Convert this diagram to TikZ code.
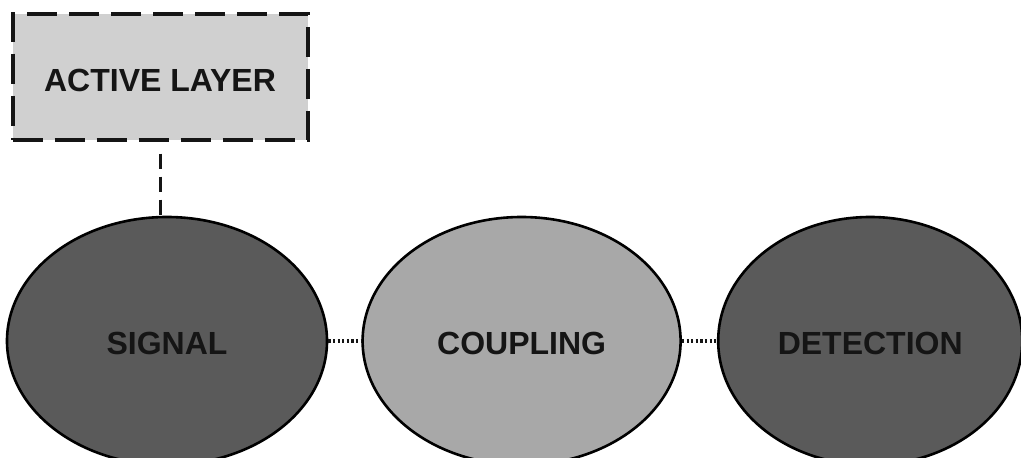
\documentclass[tikz,border=0pt]{standalone}
\usepackage{fontspec}
\setmainfont{Liberation Sans}
\usetikzlibrary{positioning, shapes.geometric}
\definecolor{cdark}{HTML}{5A5A5A}
\definecolor{clight}{HTML}{A8A8A8}
\definecolor{cpale}{HTML}{D0D0D0}
\definecolor{cink}{HTML}{151515}
\tikzset{
  every picture/.style={font=\fontsize{16}{19}\selectfont\bfseries},
  blob/.style={ellipse, draw=black, fill=#1, line width=1.3pt, inner sep=0pt, minimum height=124pt, text=cink, text height=14pt, text depth=0pt},
  blob/.default=cdark,
  layerbox/.style={draw=cink, fill=cpale, line width=2pt, dash pattern=on 15pt off 6pt, minimum width=147.5pt, minimum height=63pt, text=cink, text height=14.5pt, text depth=0pt},
  dotlink/.style={draw=cink, line width=1.7pt, dash pattern=on 1.1pt off 1.2pt},
  dashlink/.style={draw=cink, line width=1.5pt, dash pattern=on 7.5pt off 4pt},
}
\begin{document}
\begin{tikzpicture}
  \useasboundingbox (0,0) rectangle (510.5pt,-229pt);
  \node[blob, minimum width=160pt] (sig) at (83.5pt,-170.5pt) {SIGNAL};
  \node[blob=clight, minimum width=159pt, right=16.5pt of sig] (coup) {COUPLING};
  \node[blob, minimum width=152pt, right=17.5pt of coup] (det) {DETECTION};
  \node[layerbox, above=37pt of sig, xshift=-3.5pt] (layer) {ACTIVE LAYER};
  % links
  \draw[dotlink] (sig.east) -- (coup.west);
  \draw[dotlink] (coup.east) -- (det.west);
  \draw[dashlink] ([yshift=-6pt]layer.south) -- (layer.south |- sig.north);
\end{tikzpicture}
\end{document}
